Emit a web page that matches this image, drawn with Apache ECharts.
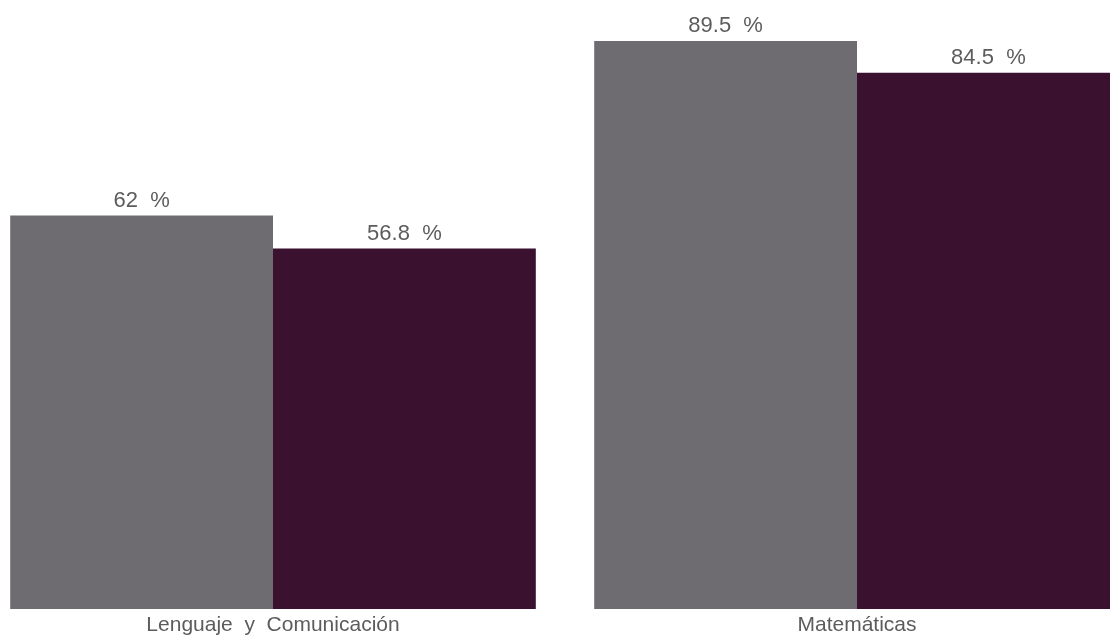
<!DOCTYPE html>
<html>
<head>
<meta charset="utf-8">
<script src="https://cdn.jsdelivr.net/npm/echarts@6/dist/echarts.min.js"></script>
<style>
	html, body { margin: 0; padding: 0; background: #fff; }
	#chart { width: 1110px; height: 635px; }
</style>
</head>
<body>
<div id="chart"></div>
<script>
const categories = ['Lenguaje  y  Comunicación', 'Matemáticas']
const serieA = [62, 89.5]
const serieB = [56.8, 84.5]

const myChart = echarts.init(document.getElementById('chart'), null, { renderer: 'canvas' })

const labelStyle = {
	show: true,
	position: 'top',
	distance: 4,
	formatter: '{c}  %',
	color: '#5c5c5c',
	fontFamily: 'Liberation Sans, Arial, sans-serif',
	fontSize: 22,
}

let option = {
	animation: false,
	backgroundColor: '#fff',
	grid: {
		left: -19,
		right: -39,
		top: 41,
		bottom: 26,
		outerBoundsMode: 'none',
		containLabel: false,
	},
	xAxis: {
		type: 'category',
		data: categories,
		axisLine: { show: false },
		axisTick: { show: false },
		axisLabel: {
			margin: 6,
			color: '#5c5c5c',
			fontFamily: 'Liberation Sans, Arial, sans-serif',
			fontSize: 21,
			interval: 0,
		},
	},
	yAxis: {
		type: 'value',
		min: 0,
		max: 89.5,
		show: false,
		splitLine: { show: false },
	},
	series: [
		{
			name: 'Serie A',
			type: 'bar',
			data: serieA,
			barGap: '0%',
			barCategoryGap: '10%',
			itemStyle: { color: '#6e6c71' },
			label: labelStyle,
		},
		{
			name: 'Serie B',
			type: 'bar',
			data: serieB,
			itemStyle: { color: '#3a112e' },
			label: labelStyle,
		},
	],
}
myChart.setOption(option)

window.addEventListener('resize', () => {
	myChart.resize()
})
</script>
</body>
</html>
